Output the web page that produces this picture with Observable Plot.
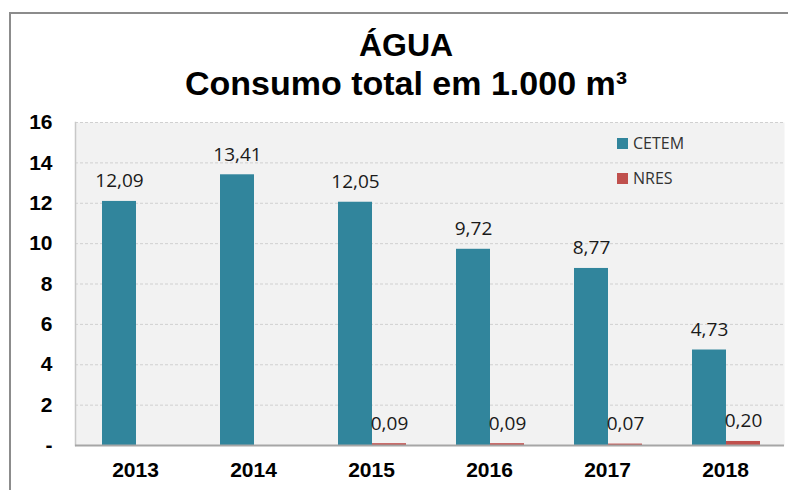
<!DOCTYPE html>
<html>
<head>
<meta charset="utf-8">
<script src="https://cdn.jsdelivr.net/npm/d3@7"></script>
<script src="https://cdn.jsdelivr.net/npm/@observablehq/plot@0.6"></script>
<style>
  html, body { margin: 0; padding: 0; background: #fff; }
  #wrap { position: relative; width: 788px; height: 490px; overflow: hidden; }
  #borderTop { position: absolute; left: 9px; top: 12px; width: 790px; height: 2px; background: #8c8c8c; }
  #borderLeft { position: absolute; left: 9px; top: 12px; width: 2px; height: 490px; background: #8c8c8c; }
  .title { position: absolute; left: 10px; width: 792px; text-align: center;
           font-family: "Liberation Sans", Arial, sans-serif; font-weight: bold; color: #000; white-space: nowrap; }
  #t1 { top: 29px; font-size: 32px; line-height: 32px; }
  #t2 { top: 65.5px; font-size: 34px; line-height: 34px; }
  #legend { position: absolute; left: 617px; top: 133px; font-family: "Open Sans", sans-serif;
            font-size: 16px; color: #333; }
  .li { position: relative; height: 35px; }
  .sw { position: absolute; left: 0; top: 5px; width: 11px; height: 11px; }
  .lt { position: absolute; left: 16px; top: -1px; line-height: 22px; white-space: nowrap; }
  #chart { position: absolute; left: 0; top: 0; }
</style>
</head>
<body>
<div id="wrap">
  <div id="chart"></div>
  <div id="borderTop"></div>
  <div id="borderLeft"></div>
  <div id="t1" class="title">ÁGUA</div>
  <div id="t2" class="title">Consumo total em 1.000 m³</div>
  <div id="legend"></div>
</div>
<script>
const years = ["2013", "2014", "2015", "2016", "2017", "2018"];
const seriesNames = ["CETEM", "NRES"];
const seriesColors = ["#31859c", "#c0504d"];
const cetemValues = [12.09, 13.41, 12.05, 9.72, 8.77, 4.73];
const nresValues = [null, null, 0.09, 0.09, 0.07, 0.20];
const yTicks = [0, 2, 4, 6, 8, 10, 12, 14, 16];

const cetem = years.map((y, i) => ({year: y, value: cetemValues[i]})).filter(d => d.value != null);
const nres = years.map((y, i) => ({year: y, value: nresValues[i]})).filter(d => d.value != null);
const fmt = v => v.toFixed(2).replace(".", ",");

const labelFont = "'Open Sans', sans-serif";
const axisFont = "'Liberation Sans', Arial, sans-serif";

const chart = Plot.plot({
  width: 788,
  height: 490,
  marginTop: 122,
  marginBottom: 45,
  marginLeft: 75,
  marginRight: 4,
  x: {domain: years, padding: 0},
  y: {domain: [0, 16]},
  marks: [
    Plot.frame({fill: "#f2f2f2", stroke: null}),
    Plot.ruleY(yTicks.filter(t => t > 0), {stroke: "#d0d0d0", strokeDasharray: "3,2", strokeWidth: 1}),
    Plot.frame({anchor: "left", stroke: "#c8c8c8", strokeWidth: 1.5}),
    Plot.barY(cetem, {x: "year", y: "value", fill: seriesColors[0], insetLeft: 26, insetRight: 58}),
    Plot.barY(nres, {x: "year", y: "value", fill: seriesColors[1], insetLeft: 60, insetRight: 24}),
    Plot.ruleY([0], {stroke: "#a6a6a6", strokeWidth: 2}),
    Plot.text(cetem, {x: "year", y: "value", text: d => fmt(d.value), dx: -16, dy: -14, lineAnchor: "bottom",
      fontFamily: labelFont, fontSize: 19, fill: "#1a1a1a"}),
    Plot.text(nres, {x: "year", y: "value", text: d => fmt(d.value), dx: 18, dy: -14, lineAnchor: "bottom",
      fontFamily: labelFont, fontSize: 19, fill: "#1a1a1a"}),
    Plot.axisY({ticks: yTicks, tickSize: 0, tickPadding: 23, label: null,
      tickFormat: d => d === 0 ? "-" : String(d),
      fontFamily: axisFont, fontWeight: "bold", fontSize: 21, fill: "#000"}),
    Plot.axisX({tickSize: 0, tickPadding: 17, label: null,
      fontFamily: axisFont, fontWeight: "bold", fontSize: 21, fill: "#000"})
  ]
});
document.getElementById("chart").appendChild(chart);

const legend = document.getElementById("legend");
seriesNames.forEach((name, i) => {
  const li = document.createElement("div");
  li.className = "li";
  const sw = document.createElement("div");
  sw.className = "sw";
  sw.style.background = seriesColors[i];
  const lt = document.createElement("div");
  lt.className = "lt";
  lt.textContent = name;
  li.appendChild(sw);
  li.appendChild(lt);
  legend.appendChild(li);
});
</script>
</body>
</html>
